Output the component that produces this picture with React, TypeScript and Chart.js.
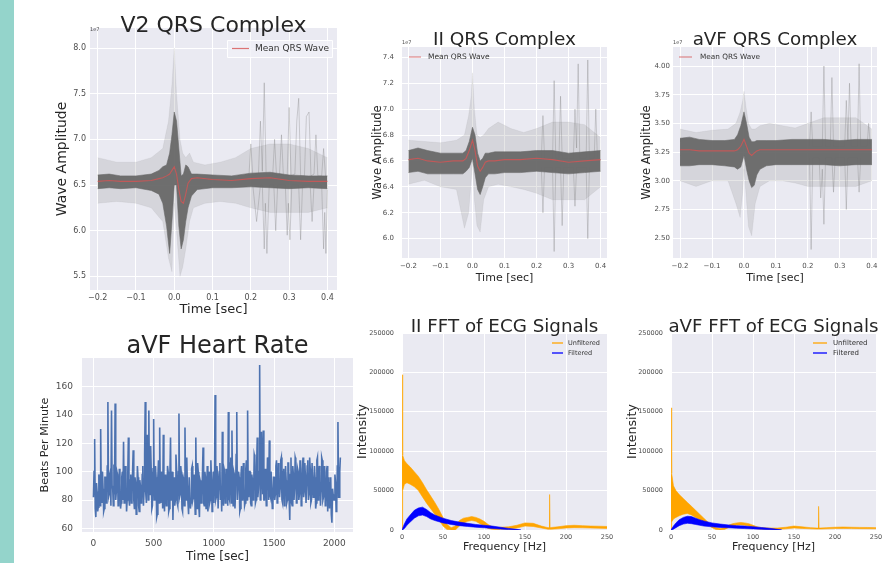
import React, { useEffect, useRef } from "react";
import { Chart, registerables } from "chart.js";
Chart.register(...registerables);

const FONT = "'DejaVu Sans', sans-serif";
const TEXT = "#262626";
const TICK = "#4d4d4d";
const BG = "#eaeaf2";
const RED = "rgba(214,84,84,0.8)";
const CORE = "rgba(104,104,104,0.95)";
const OUTER = "rgba(128,128,128,0.2)";
const TRACE = "rgba(120,120,120,0.45)";
const HR_BLUE = "#4c72b0";
const ORANGE = "#ffa500";
const BLUE = "#0000ff";

// ---------------- V2 QRS ----------------
const V2_CORE_T = [-0.2, -0.17, -0.14, -0.1, -0.06, -0.04, -0.03, -0.02, -0.012, -0.006, 0.0, 0.006, 0.012, 0.018, 0.024, 0.03, 0.036, 0.045, 0.06, 0.1, 0.15, 0.2, 0.25, 0.3, 0.35, 0.4];
const V2_CORE_HI = [6.61, 6.62, 6.6, 6.6, 6.62, 6.66, 6.7, 6.72, 6.85, 7.05, 7.3, 7.2, 6.9, 6.6, 6.62, 6.72, 6.7, 6.62, 6.62, 6.61, 6.6, 6.63, 6.64, 6.61, 6.6, 6.6];
const V2_CORE_LO = [6.46, 6.47, 6.46, 6.47, 6.44, 6.4, 6.3, 6.05, 5.75, 6.1, 6.5, 6.5, 6.05, 5.8, 5.9, 6.1, 6.25, 6.38, 6.45, 6.47, 6.47, 6.48, 6.47, 6.46, 6.47, 6.46];
const V2_MEAN = [6.54, 6.55, 6.54, 6.54, 6.55, 6.57, 6.58, 6.6, 6.62, 6.66, 6.7, 6.62, 6.45, 6.32, 6.3, 6.4, 6.52, 6.57, 6.58, 6.56, 6.55, 6.57, 6.58, 6.55, 6.54, 6.54];
const V2_OUT_T = [-0.2, -0.15, -0.1, -0.06, -0.03, -0.015, -0.006, 0.0, 0.006, 0.015, 0.022, 0.03, 0.04, 0.05, 0.08, 0.12, 0.16, 0.2, 0.25, 0.3, 0.35, 0.4];
const V2_OUT_HI = [6.8, 6.75, 6.75, 6.8, 6.9, 7.2, 7.6, 8.0, 7.5, 7.0, 6.85, 6.8, 6.85, 6.75, 6.72, 6.75, 6.8, 6.9, 6.95, 6.95, 6.9, 6.8];
const V2_OUT_LO = [6.3, 6.32, 6.3, 6.25, 6.1, 5.7, 5.55, 6.3, 6.0, 5.5, 5.6, 5.8, 6.1, 6.25, 6.3, 6.32, 6.3, 6.25, 6.2, 6.2, 6.2, 6.25];
const V2_UP_T = [0.19, 0.195, 0.2, 0.205, 0.22, 0.225, 0.23, 0.235, 0.24, 0.257, 0.262, 0.267, 0.275, 0.28, 0.285, 0.295, 0.3, 0.305, 0.315, 0.32, 0.325, 0.33, 0.34, 0.345, 0.352, 0.357, 0.365, 0.37, 0.375, 0.385, 0.39, 0.395];
const V2_UP_V = [6.6, 6.6, 6.95, 6.6, 6.62, 7.2, 6.65, 7.62, 6.6, 6.6, 7.0, 6.6, 6.62, 7.05, 6.6, 6.6, 7.35, 6.6, 6.62, 7.2, 7.45, 6.6, 6.6, 7.25, 7.3, 6.6, 6.62, 7.05, 6.6, 6.6, 6.9, 6.6];
const V2_DN_T = [0.205, 0.215, 0.225, 0.23, 0.235, 0.238, 0.242, 0.248, 0.26, 0.265, 0.27, 0.29, 0.295, 0.298, 0.302, 0.307, 0.325, 0.33, 0.335, 0.355, 0.36, 0.365, 0.385, 0.39, 0.393, 0.396, 0.4];
const V2_DN_V = [6.5, 6.1, 6.5, 6.5, 5.8, 6.3, 5.75, 6.5, 6.5, 6.0, 6.5, 6.5, 5.95, 6.3, 5.9, 6.5, 6.5, 5.9, 6.5, 6.5, 6.1, 6.5, 6.5, 5.8, 6.2, 5.75, 6.45];
const V2_YTICKS = [5.5, 6.0, 6.5, 7.0, 7.5, 8.0];
const QRS_XTICKS = [-0.2, -0.1, 0.0, 0.1, 0.2, 0.3, 0.4];

// ---------------- II QRS ----------------
const QRS_CORE_T = [-0.2, -0.17, -0.14, -0.1, -0.06, -0.03, -0.02, -0.01, 0.0, 0.008, 0.016, 0.024, 0.032, 0.04, 0.05, 0.07, 0.1, 0.15, 0.2, 0.25, 0.3, 0.35, 0.4];
const II_CORE_HI = [6.68, 6.7, 6.68, 6.66, 6.66, 6.66, 6.68, 6.75, 6.86, 6.8, 6.66, 6.6, 6.62, 6.66, 6.66, 6.67, 6.67, 6.67, 6.68, 6.68, 6.66, 6.67, 6.68];
const II_CORE_LO = [6.51, 6.52, 6.5, 6.5, 6.5, 6.5, 6.52, 6.55, 6.62, 6.5, 6.38, 6.34, 6.4, 6.47, 6.5, 6.5, 6.51, 6.51, 6.52, 6.51, 6.5, 6.51, 6.52];
const II_MEAN = [6.61, 6.62, 6.6, 6.59, 6.6, 6.6, 6.62, 6.68, 6.76, 6.68, 6.56, 6.52, 6.55, 6.59, 6.6, 6.6, 6.61, 6.61, 6.62, 6.61, 6.59, 6.6, 6.61];
const QRS_OUT_T = [-0.2, -0.15, -0.1, -0.05, -0.025, -0.012, -0.004, 0.0, 0.006, 0.014, 0.024, 0.035, 0.05, 0.08, 0.12, 0.16, 0.2, 0.25, 0.3, 0.35, 0.4];
const II_OUT_HI = [6.76, 6.75, 6.74, 6.76, 6.8, 6.95, 7.1, 7.28, 7.0, 6.8, 6.78, 6.8, 6.85, 6.9, 6.85, 6.82, 6.85, 6.9, 6.9, 6.88, 6.78];
const II_OUT_LO = [6.42, 6.45, 6.4, 6.38, 6.08, 6.2, 6.45, 6.6, 6.3, 6.1, 6.05, 6.3, 6.4, 6.42, 6.4, 6.38, 6.35, 6.3, 6.3, 6.3, 6.4];
const II_UP_T = [0.215, 0.22, 0.225, 0.25, 0.255, 0.26, 0.27, 0.275, 0.28, 0.315, 0.32, 0.325, 0.33, 0.335, 0.355, 0.36, 0.365, 0.38, 0.385, 0.39];
const II_UP_V = [6.62, 6.95, 6.62, 6.62, 7.22, 6.62, 6.62, 7.1, 6.62, 6.62, 7.0, 6.7, 7.35, 6.62, 6.62, 7.38, 6.62, 6.62, 7.0, 6.62];
const II_DN_T = [0.215, 0.22, 0.225, 0.25, 0.255, 0.26, 0.275, 0.28, 0.285, 0.315, 0.32, 0.325, 0.355, 0.36, 0.365];
const II_DN_V = [6.55, 6.2, 6.55, 6.55, 5.9, 6.55, 6.55, 6.1, 6.55, 6.55, 6.25, 6.55, 6.55, 6.0, 6.55];
const II_YTICKS = [6.0, 6.2, 6.4, 6.6, 6.8, 7.0, 7.2, 7.4];

// ---------------- aVF QRS ----------------
const AVF_CORE_HI = [3.37, 3.38, 3.36, 3.35, 3.35, 3.36, 3.4, 3.48, 3.6, 3.5, 3.38, 3.34, 3.34, 3.35, 3.35, 3.35, 3.35, 3.36, 3.36, 3.36, 3.35, 3.36, 3.36];
const AVF_CORE_LO = [3.13, 3.13, 3.14, 3.14, 3.13, 3.12, 3.1, 3.12, 3.22, 3.1, 3.0, 2.94, 2.96, 3.05, 3.1, 3.13, 3.14, 3.14, 3.14, 3.14, 3.13, 3.14, 3.14];
const AVF_MEAN = [3.27, 3.27, 3.26, 3.26, 3.26, 3.26, 3.27, 3.3, 3.36, 3.3, 3.24, 3.22, 3.24, 3.26, 3.27, 3.27, 3.27, 3.27, 3.27, 3.27, 3.27, 3.27, 3.27];
const AVF_OUT_HI = [3.45, 3.42, 3.44, 3.45, 3.5, 3.6, 3.7, 3.78, 3.65, 3.5, 3.45, 3.45, 3.48, 3.5, 3.48, 3.46, 3.5, 3.55, 3.55, 3.55, 3.45];
const AVF_OUT_LO = [3.0, 2.95, 3.0, 3.0, 2.8, 2.68, 2.9, 3.1, 2.9, 2.6, 2.52, 2.8, 2.95, 3.0, 3.0, 2.98, 2.95, 2.95, 2.95, 2.95, 3.0];
const AVF_UP_T = [0.205, 0.21, 0.215, 0.245, 0.25, 0.255, 0.27, 0.275, 0.28, 0.315, 0.32, 0.325, 0.33, 0.335, 0.355, 0.36, 0.365, 0.385, 0.39, 0.395];
const AVF_UP_V = [3.3, 3.6, 3.3, 3.3, 4.0, 3.3, 3.3, 3.9, 3.3, 3.3, 3.7, 3.35, 3.85, 3.3, 3.3, 4.02, 3.3, 3.3, 3.5, 3.3];
const AVF_DN_T = [0.205, 0.21, 0.215, 0.235, 0.24, 0.245, 0.25, 0.255, 0.275, 0.28, 0.285, 0.315, 0.32, 0.325, 0.355, 0.36, 0.365];
const AVF_DN_V = [3.2, 2.4, 3.2, 3.2, 2.85, 3.1, 2.62, 3.2, 3.2, 2.9, 3.2, 3.2, 2.75, 3.2, 3.2, 2.9, 3.2];
const AVF_YTICKS = [2.5, 2.75, 3.0, 3.25, 3.5, 3.75, 4.0];

// ---------------- aVF Heart Rate ----------------
const HR_TIME = [
  0, 5, 10, 15, 20, 25, 30, 35, 40, 45, 50, 55, 60, 65, 70, 75, 80, 85, 90, 95,
  100, 105, 110, 115, 120, 125, 130, 135, 140, 145, 150, 155, 160, 165, 170, 175, 180, 185, 190, 195,
  200, 205, 210, 215, 220, 225, 230, 235, 240, 245, 250, 255, 260, 265, 270, 275, 280, 285, 290, 295,
  300, 305, 310, 315, 320, 325, 330, 335, 340, 345, 350, 355, 360, 365, 370, 375, 380, 385, 390, 395,
  400, 405, 410, 415, 420, 425, 430, 435, 440, 445, 450, 455, 460, 465, 470, 475, 480, 485, 490, 495,
  500, 505, 510, 515, 520, 525, 530, 535, 540, 545, 550, 555, 560, 565, 570, 575, 580, 585, 590, 595,
  600, 605, 610, 615, 620, 625, 630, 635, 640, 645, 650, 655, 660, 665, 670, 675, 680, 685, 690, 695,
  700, 705, 710, 715, 720, 725, 730, 735, 740, 745, 750, 755, 760, 765, 770, 775, 780, 785, 790, 795,
  800, 805, 810, 815, 820, 825, 830, 835, 840, 845, 850, 855, 860, 865, 870, 875, 880, 885, 890, 895,
  900, 905, 910, 915, 920, 925, 930, 935, 940, 945, 950, 955, 960, 965, 970, 975, 980, 985, 990, 995,
  1000, 1005, 1010, 1015, 1020, 1025, 1030, 1035, 1040, 1045, 1050, 1055, 1060, 1065, 1070, 1075, 1080, 1085, 1090, 1095,
  1100, 1105, 1110, 1115, 1120, 1125, 1130, 1135, 1140, 1145, 1150, 1155, 1160, 1165, 1170, 1175, 1180, 1185, 1190, 1195,
  1200, 1205, 1210, 1215, 1220, 1225, 1230, 1235, 1240, 1245, 1250, 1255, 1260, 1265, 1270, 1275, 1280, 1285, 1290, 1295,
  1300, 1305, 1310, 1315, 1320, 1325, 1330, 1335, 1340, 1345, 1350, 1355, 1360, 1365, 1370, 1375, 1380, 1385, 1390, 1395,
  1400, 1405, 1410, 1415, 1420, 1425, 1430, 1435, 1440, 1445, 1450, 1455, 1460, 1465, 1470, 1475, 1480, 1485, 1490, 1495,
  1500, 1505, 1510, 1515, 1520, 1525, 1530, 1535, 1540, 1545, 1550, 1555, 1560, 1565, 1570, 1575, 1580, 1585, 1590, 1595,
  1600, 1605, 1610, 1615, 1620, 1625, 1630, 1635, 1640, 1645, 1650, 1655, 1660, 1665, 1670, 1675, 1680, 1685, 1690, 1695,
  1700, 1705, 1710, 1715, 1720, 1725, 1730, 1735, 1740, 1745, 1750, 1755, 1760, 1765, 1770, 1775, 1780, 1785, 1790, 1795,
  1800, 1805, 1810, 1815, 1820, 1825, 1830, 1835, 1840, 1845, 1850, 1855, 1860, 1865, 1870, 1875, 1880, 1885, 1890, 1895,
  1900, 1905, 1910, 1915, 1920, 1925, 1930, 1935, 1940, 1945, 1950, 1955, 1960, 1965, 1970, 1975, 1980, 1985, 1990, 1995,
  2000, 2005, 2010, 2015, 2020, 2025, 2030, 2035, 2040, 2045, 2050,
];
const HR_BPM = [
  82, 100, 123, 74, 68, 92, 86, 72, 75, 98, 95, 76, 130, 84, 78, 100, 88, 72, 74, 96,
  96, 78, 80, 104, 149, 82, 84, 98, 100, 76, 143, 90, 88, 76, 105, 84, 148, 80, 86, 100,
  98, 76, 84, 102, 92, 74, 78, 96, 100, 80, 121, 78, 82, 104, 96, 72, 80, 98, 124, 80,
  76, 94, 98, 78, 84, 100, 115, 80, 74, 96, 92, 70, 80, 104, 96, 76, 72, 94, 90, 78,
  80, 98, 104, 76, 86, 112, 149, 84, 78, 126, 110, 80, 143, 86, 84, 118, 100, 74, 76, 102,
  137, 80, 82, 104, 96, 68, 70, 96, 108, 78, 131, 84, 78, 100, 94, 74, 126, 82, 72, 98,
  90, 76, 80, 104, 100, 72, 74, 98, 124, 80, 86, 100, 66, 88, 96, 76, 80, 112, 102, 78,
  76, 100, 141, 82, 84, 104, 98, 74, 72, 96, 94, 76, 131, 86, 80, 110, 90, 78, 70, 96,
  96, 74, 78, 102, 104, 80, 82, 98, 88, 70, 124, 84, 74, 106, 100, 76, 68, 94, 92, 78,
  82, 98, 117, 78, 76, 100, 96, 74, 86, 104, 72, 92, 100, 78, 80, 108, 94, 72, 84, 100,
  78, 96, 154, 80, 82, 104, 98, 74, 74, 100, 106, 80, 90, 72, 128, 84, 76, 102, 100, 78,
  84, 102, 96, 76, 142, 82, 80, 106, 110, 78, 129, 86, 76, 100, 98, 74, 86, 112, 142, 80,
  80, 100, 96, 72, 74, 98, 104, 80, 84, 106, 92, 76, 78, 102, 108, 80, 143, 86, 82, 100,
  100, 78, 76, 98, 94, 80, 86, 112, 110, 78, 80, 104, 124, 82, 88, 100, 175, 80, 84, 128,
  104, 84, 129, 80, 80, 102, 98, 76, 86, 110, 106, 80, 122, 84, 82, 100, 100, 74, 78, 96,
  96, 80, 84, 104, 108, 78, 80, 106, 100, 82, 88, 108, 110, 80, 78, 100, 102, 76, 86, 104,
  94, 78, 80, 106, 106, 80, 66, 98, 110, 78, 76, 104, 98, 80, 88, 110, 108, 78, 82, 102,
  100, 80, 84, 108, 104, 76, 80, 102, 110, 82, 86, 106, 96, 78, 78, 104, 108, 80, 84, 110,
  102, 78, 80, 106, 106, 82, 88, 104, 96, 74, 78, 108, 110, 80, 84, 104, 100, 76, 86, 110,
  108, 80, 82, 104, 98, 76, 78, 100, 104, 72, 88, 96, 74, 92, 96, 70, 64, 88, 84, 80,
  80, 98, 92, 72, 76, 104, 135, 82, 82, 100, 110,
];
const HR_YTICKS = [60, 80, 100, 120, 140, 160];
const HR_XTICKS = [0, 500, 1000, 1500, 2000];

// ---------------- II FFT ----------------
const II_OR_F = [0, 0.8, 3, 6, 10, 15, 20, 25, 30, 35, 40, 45, 50, 55, 60, 65, 70, 75, 80, 85, 90, 95, 100, 105, 110, 115, 120, 130, 140, 150, 160, 170, 178, 179.5, 180, 180.5, 182, 190, 200, 210, 220, 230, 240, 250];
const II_OR_HI = [197000, 95000, 88000, 84000, 80000, 74000, 68000, 60000, 51000, 43000, 35000, 26000, 16000, 7000, 3000, 5000, 12000, 15000, 16000, 17000, 16000, 14000, 11000, 7000, 4000, 3000, 3500, 4000, 6000, 9000, 8500, 5000, 3000, 3000, 45000, 3000, 3200, 4000, 5500, 6000, 5500, 5000, 4800, 4500];
const II_OR_LO = [0, 50000, 58000, 60000, 58000, 55000, 50000, 42000, 34000, 27000, 20000, 13000, 5000, 500, 0, 0, 5000, 9000, 11000, 12000, 11000, 8000, 5000, 2000, 800, 500, 800, 1000, 2500, 5000, 4500, 2500, 1000, 1000, 1000, 1000, 1000, 1500, 2500, 3000, 2800, 2500, 2300, 2000];
const II_BL_F = [0, 1, 3, 6, 10, 15, 20, 25, 30, 35, 40, 50, 60, 70, 80, 90, 100, 110, 120, 130, 140, 145];
const II_BL_HI = [0, 3000, 8000, 14000, 19000, 25000, 28000, 29000, 26000, 22000, 19000, 15000, 12000, 10000, 8500, 7000, 6000, 5000, 3500, 2000, 800, 0];
const II_BL_LO = [0, 0, 2000, 6000, 10000, 15000, 18000, 19000, 17000, 14000, 12000, 9000, 7000, 5500, 4500, 3500, 2800, 2000, 1200, 500, 0, 0];

// ---------------- aVF FFT ----------------
const AVF_OR_F = [0, 0.8, 3, 6, 10, 15, 20, 25, 30, 35, 40, 45, 50, 55, 60, 65, 70, 75, 80, 85, 90, 95, 100, 105, 110, 120, 130, 140, 150, 160, 170, 178, 179.5, 180, 180.5, 182, 190, 200, 210, 220, 230, 240, 250];
const AVF_OR_HI = [155000, 72000, 56000, 50000, 45000, 40000, 35000, 30000, 25000, 20000, 15000, 10000, 6000, 3000, 2000, 3000, 6000, 8000, 9000, 9500, 9000, 8000, 6000, 4000, 3000, 2500, 2500, 3500, 5000, 4000, 3000, 2500, 2500, 30000, 2500, 2500, 3000, 3500, 3800, 3500, 3300, 3200, 3000];
const AVF_OR_LO = [0, 10000, 14000, 16000, 18000, 20000, 21000, 19000, 16000, 13000, 10000, 7000, 3000, 500, 0, 500, 3000, 5000, 6000, 6500, 6000, 5000, 3000, 1500, 1000, 800, 800, 1500, 2500, 2000, 1500, 1200, 1200, 1200, 1200, 1200, 1500, 1800, 2000, 1800, 1700, 1600, 1500];
const AVF_BL_F = [0, 1, 3, 6, 10, 15, 20, 25, 30, 35, 40, 50, 60, 70, 80, 90, 100, 110, 120, 130, 135];
const AVF_BL_HI = [0, 2000, 5000, 9000, 13000, 16000, 17500, 17000, 15000, 13000, 11500, 9000, 7500, 6500, 5500, 5000, 4200, 3200, 2200, 800, 0];
const AVF_BL_LO = [0, 0, 1000, 3000, 5500, 7500, 8500, 8000, 7000, 6000, 5000, 4000, 3200, 2800, 2300, 1800, 1400, 900, 400, 0, 0];
const FFT_XTICKS = [0, 50, 100, 150, 200, 250];
const FFT_YTICKS = [0, 50000, 100000, 150000, 200000, 250000];

// ---------------- helpers ----------------
const pts = (xs: number[], ys: number[]) => xs.map((x, i) => ({ x, y: ys[i] }));
const fmt = (d: number) => (v: number) => Number(v).toFixed(d).replace("-", "\u2212");

function band(xs: number[], hi: number[], lo: number[], color: string, lw = 0.6) {
  return [
    { data: pts(xs, hi), borderColor: color, borderWidth: lw, backgroundColor: color, fill: false, pointRadius: 0 },
    { data: pts(xs, lo), borderColor: color, borderWidth: lw, backgroundColor: color, fill: "-1", pointRadius: 0 },
  ];
}

function trace(xs: number[], ys: number[]) {
  return { data: pts(xs, ys), borderColor: TRACE, borderWidth: 0.7, fill: false, pointRadius: 0 };
}

function qrsDatasets(
  coreT: number[], coreHi: number[], coreLo: number[], mean: number[],
  outT: number[], outHi: number[], outLo: number[],
  upT: number[], upV: number[], dnT: number[], dnV: number[]
) {
  return [
    { data: pts(coreT, mean), borderColor: RED, borderWidth: 1.1, fill: false, pointRadius: 0 },
    ...band(coreT, coreHi, coreLo, CORE),
    trace(upT, upV),
    trace(dnT, dnV),
    ...band(outT, outHi, outLo, OUTER, 0.5),
  ];
}

type Spec = any;

function makeDecor(spec: Spec) {
  return {
    id: "decor",
    beforeDraw(chart: any) {
      const { ctx, chartArea: a } = chart;
      ctx.save();
      ctx.fillStyle = BG;
      ctx.fillRect(a.left, a.top, a.right - a.left, a.bottom - a.top);
      ctx.restore();
    },
    afterDraw(chart: any) {
      const ctx = chart.ctx;
      const ox = spec.canvas.x;
      const oy = spec.canvas.y;
      ctx.save();
      ctx.fillStyle = TEXT;
      ctx.textAlign = "center";
      ctx.textBaseline = "alphabetic";
      ctx.font = `${spec.title.size}px ${FONT}`;
      ctx.fillText(spec.title.text, spec.title.cx - ox, spec.title.baseline - oy);
      if (spec.offsetText) {
        ctx.font = `5px ${FONT}`;
        ctx.fillStyle = TICK;
        ctx.textAlign = "left";
        ctx.fillText(spec.offsetText.text, spec.offsetText.x - ox, spec.offsetText.y - oy);
      }
      const lg = spec.legend;
      if (lg) {
        if (lg.box) {
          const b = lg.box;
          ctx.fillStyle = "rgba(240,240,246,0.8)";
          ctx.strokeStyle = "rgba(255,255,255,0.95)";
          ctx.lineWidth = 1;
          ctx.beginPath();
          ctx.rect(b.x - ox + 0.5, b.y - oy + 0.5, b.w, b.h);
          ctx.fill();
          ctx.stroke();
        }
        ctx.textAlign = "left";
        ctx.textBaseline = "middle";
        ctx.font = `${lg.size}px ${FONT}`;
        for (const it of lg.items) {
          ctx.strokeStyle = it.color;
          ctx.lineWidth = it.width;
          ctx.beginPath();
          ctx.moveTo(lg.x1 - ox, it.y - oy);
          ctx.lineTo(lg.x2 - ox, it.y - oy);
          ctx.stroke();
          ctx.fillStyle = "#333";
          ctx.fillText(it.label, lg.tx - ox, it.y - oy);
        }
      }
      ctx.restore();
    },
  };
}

function buildConfig(spec: Spec) {
  const c = spec.canvas;
  const p = spec.plot;
  const yW = p.l - c.x;
  const xH = c.y + c.h - p.b;
  const axisCommon = (ticks: number[], f: (v: number) => string, pad: number) => ({
    type: "linear",
    afterBuildTicks: (s: any) => {
      s.ticks = ticks.map((v) => ({ value: v }));
    },
    grid: { color: "#ffffff", lineWidth: 1, drawTicks: false },
    border: { display: false },
    ticks: {
      autoSkip: false,
      maxRotation: 0,
      padding: pad,
      color: TICK,
      font: { family: FONT, size: spec.tickSize },
      callback: (v: any) => f(Number(v)),
    },
  });
  return {
    type: "line",
    data: { datasets: spec.datasets },
    options: {
      animation: false,
      responsive: false,
      maintainAspectRatio: false,
      devicePixelRatio: 1,
      layout: { padding: { top: p.t - c.y, right: c.x + c.w - p.r, left: 0, bottom: 0 } },
      plugins: { legend: { display: false }, tooltip: { enabled: false }, title: { display: false } },
      elements: { point: { radius: 0 }, line: { tension: 0 } },
      scales: {
        x: {
          ...axisCommon(spec.xTicks, spec.xFmt, spec.xTickPad),
          min: spec.xMin,
          max: spec.xMax,
          afterFit: (s: any) => {
            s.height = xH;
          },
          title: {
            display: true,
            text: spec.xLabel.text,
            color: TEXT,
            font: { family: FONT, size: spec.xLabel.size, lineHeight: 1.2 },
            padding: { top: 0, bottom: spec.xLabel.pad },
          },
        },
        y: {
          ...axisCommon(spec.yTicks, spec.yFmt, spec.yTickPad),
          min: spec.yMin,
          max: spec.yMax,
          afterFit: (s: any) => {
            s.width = yW;
          },
          title: {
            display: true,
            text: spec.yLabel.text,
            color: TEXT,
            font: { family: FONT, size: spec.yLabel.size, lineHeight: 1.2 },
            padding: { top: spec.yLabel.pad, bottom: 0 },
          },
        },
      },
    },
    plugins: [makeDecor(spec)],
  };
}

const SPECS: Spec[] = [
  {
    canvas: { x: 20, y: 0, w: 325, h: 320 },
    plot: { l: 90, t: 28, r: 337, b: 290 },
    xMin: -0.22, xMax: 0.425, yMin: 5.35, yMax: 8.22,
    xTicks: QRS_XTICKS, yTicks: V2_YTICKS, xFmt: fmt(1), yFmt: fmt(1),
    tickSize: 8, xTickPad: 3, yTickPad: 4,
    xLabel: { text: "Time [sec]", size: 13, pad: 2.2 },
    yLabel: { text: "Wave Amplitude", size: 14, pad: 33.6 },
    title: { text: "V2 QRS Complex", size: 22, baseline: 32, cx: 213.5 },
    offsetText: { text: "1e7", x: 90, y: 31 },
    legend: { box: { x: 227, y: 40, w: 105, h: 17 }, x1: 232, x2: 249, tx: 255, size: 9, items: [{ label: "Mean QRS Wave", color: RED, width: 1.2, y: 48.5 }] },
    datasets: qrsDatasets(V2_CORE_T, V2_CORE_HI, V2_CORE_LO, V2_MEAN, V2_OUT_T, V2_OUT_HI, V2_OUT_LO, V2_UP_T, V2_UP_V, V2_DN_T, V2_DN_V),
  },
  {
    canvas: { x: 350, y: 20, w: 270, h: 270 },
    plot: { l: 402, t: 47, r: 607, b: 258 },
    xMin: -0.22, xMax: 0.42, yMin: 5.85, yMax: 7.48,
    xTicks: QRS_XTICKS, yTicks: II_YTICKS, xFmt: fmt(1), yFmt: fmt(1),
    tickSize: 7, xTickPad: 4, yTickPad: 8,
    xLabel: { text: "Time [sec]", size: 11, pad: 5.4 },
    yLabel: { text: "Wave Amplitude", size: 11.5, pad: 21.1 },
    title: { text: "II QRS Complex", size: 18.5, baseline: 45, cx: 504.5 },
    offsetText: { text: "1e7", x: 402, y: 44 },
    legend: { x1: 409, x2: 421, tx: 428, size: 7.5, items: [{ label: "Mean QRS Wave", color: RED, width: 1, y: 57 }] },
    datasets: qrsDatasets(QRS_CORE_T, II_CORE_HI, II_CORE_LO, II_MEAN, QRS_OUT_T, II_OUT_HI, II_OUT_LO, II_UP_T, II_UP_V, II_DN_T, II_DN_V),
  },
  {
    canvas: { x: 620, y: 20, w: 268, h: 270 },
    plot: { l: 673, t: 47, r: 877, b: 258 },
    xMin: -0.222, xMax: 0.416, yMin: 2.326, yMax: 4.166,
    xTicks: QRS_XTICKS, yTicks: AVF_YTICKS, xFmt: fmt(1), yFmt: fmt(2),
    tickSize: 7, xTickPad: 4, yTickPad: 3,
    xLabel: { text: "Time [sec]", size: 11, pad: 5.4 },
    yLabel: { text: "Wave Amplitude", size: 11.5, pad: 20.1 },
    title: { text: "aVF QRS Complex", size: 18.3, baseline: 45, cx: 775 },
    offsetText: { text: "1e7", x: 673, y: 44 },
    legend: { x1: 679, x2: 692, tx: 700, size: 7.3, items: [{ label: "Mean QRS Wave", color: RED, width: 1, y: 57 }] },
    datasets: qrsDatasets(QRS_CORE_T, AVF_CORE_HI, AVF_CORE_LO, AVF_MEAN, QRS_OUT_T, AVF_OUT_HI, AVF_OUT_LO, AVF_UP_T, AVF_UP_V, AVF_DN_T, AVF_DN_V),
  },
  {
    canvas: { x: 20, y: 320, w: 335, h: 250 },
    plot: { l: 82, t: 358, r: 353, b: 532 },
    xMin: -95, xMax: 2155, yMin: 57.5, yMax: 180,
    xTicks: HR_XTICKS, yTicks: HR_YTICKS, xFmt: fmt(0), yFmt: fmt(0),
    tickSize: 9, xTickPad: 6, yTickPad: 9,
    xLabel: { text: "Time [sec]", size: 12, pad: 5.8 },
    yLabel: { text: "Beats Per Minute", size: 11.2, pad: 18.3 },
    title: { text: "aVF Heart Rate", size: 24, baseline: 353, cx: 217.5 },
    datasets: [{ data: pts(HR_TIME, HR_BPM), borderColor: HR_BLUE, borderWidth: 1.6, fill: false, pointRadius: 0 }],
  },
  {
    canvas: { x: 355, y: 300, w: 270, h: 270 },
    plot: { l: 402, t: 333, r: 607, b: 530 },
    xMin: 0, xMax: 250, yMin: 0, yMax: 250000,
    xTicks: FFT_XTICKS, yTicks: FFT_YTICKS, xFmt: fmt(0), yFmt: fmt(0),
    tickSize: 6.5, xTickPad: 3, yTickPad: 8,
    xLabel: { text: "Frequency [Hz]", size: 11, pad: 16.4 },
    yLabel: { text: "Intensity", size: 12.6, pad: 0.5 },
    title: { text: "II FFT of ECG Signals", size: 18.3, baseline: 332, cx: 504.5 },
    legend: { x1: 552, x2: 563, tx: 568, size: 6.5, items: [{ label: "Unfiltered", color: ORANGE, width: 1.3, y: 343 }, { label: "Filtered", color: BLUE, width: 1.3, y: 353 }] },
    datasets: [...band(II_BL_F, II_BL_HI, II_BL_LO, BLUE), ...band(II_OR_F, II_OR_HI, II_OR_LO, ORANGE)],
  },
  {
    canvas: { x: 625, y: 300, w: 263, h: 270 },
    plot: { l: 671, t: 333, r: 876, b: 530 },
    xMin: 0, xMax: 250, yMin: 0, yMax: 250000,
    xTicks: FFT_XTICKS, yTicks: FFT_YTICKS, xFmt: fmt(0), yFmt: fmt(0),
    tickSize: 6.5, xTickPad: 3, yTickPad: 8,
    xLabel: { text: "Frequency [Hz]", size: 11, pad: 16.4 },
    yLabel: { text: "Intensity", size: 12.6, pad: 0.5 },
    title: { text: "aVF FFT of ECG Signals", size: 18.2, baseline: 332, cx: 773.5 },
    legend: { x1: 813, x2: 827, tx: 833, size: 7, items: [{ label: "Unfiltered", color: ORANGE, width: 1.3, y: 343 }, { label: "Filtered", color: BLUE, width: 1.3, y: 353 }] },
    datasets: [...band(AVF_BL_F, AVF_BL_HI, AVF_BL_LO, BLUE), ...band(AVF_OR_F, AVF_OR_HI, AVF_OR_LO, ORANGE)],
  },
];

function Panel({ spec }: { spec: Spec }) {
  const ref = useRef<HTMLCanvasElement | null>(null);
  useEffect(() => {
    if (!ref.current) return;
    const chart = new Chart(ref.current, buildConfig(spec) as any);
    return () => chart.destroy();
  }, [spec]);
  const c = spec.canvas;
  return (
    <canvas
      ref={ref}
      width={c.w}
      height={c.h}
      style={{ position: "absolute", left: c.x, top: c.y, width: c.w, height: c.h }}
    />
  );
}

export default function App() {
  return (
    <div style={{ position: "fixed", left: 0, top: 0, width: 888, height: 563, overflow: "hidden", background: "#ffffff" }}>
      <div style={{ position: "absolute", left: 0, top: 0, width: 14, height: 563, background: "#94d4cb" }} />
      {SPECS.map((s, i) => (
        <Panel key={i} spec={s} />
      ))}
    </div>
  );
}
